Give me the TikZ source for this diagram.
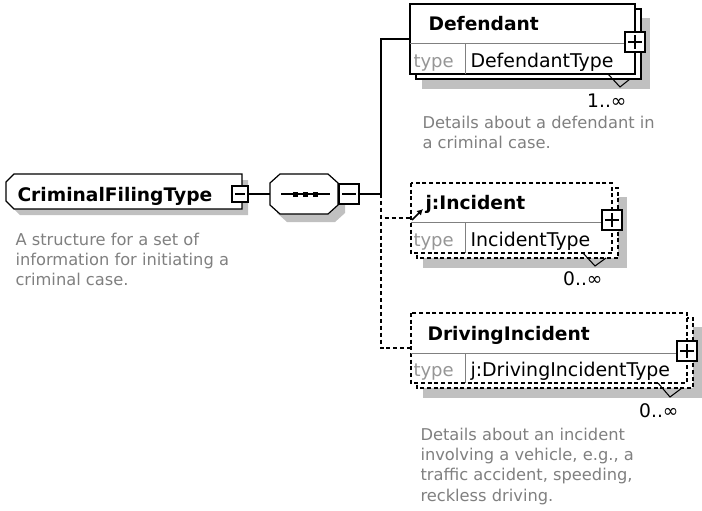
\documentclass[tikz,border=0pt]{standalone}
\usepackage{fontspec}
\setmainfont{DejaVu Sans}
\usetikzlibrary{fit,arrows.meta}
\definecolor{shadowgray}{RGB}{192,192,192}
\definecolor{desc}{RGB}{128,128,128}
\definecolor{tlabel}{RGB}{150,150,150}
\definecolor{sepc}{RGB}{128,128,128}
\begin{document}
\begin{tikzpicture}[x=0.75pt,y=-0.75pt,line width=0.75pt,
 shadowfill/.style={fill=shadowgray,draw=none},
 frontbox/.style={draw=black,fill=white,line width=0.9pt},
 optbox/.style={frontbox,dash pattern=on 3pt off 2pt},
 fitbox/.style={inner sep=0pt,outer sep=0pt},
 ttl/.style={anchor=base west,inner sep=0pt,font=\fontsize{14}{17}\selectfont\bfseries},
 tlab/.style={anchor=base west,inner sep=0pt,text=tlabel,font=\fontsize{13.5}{16}\selectfont},
 tval/.style={anchor=base west,inner sep=0pt,font=\fontsize{14.2}{17}\selectfont},
 card/.style={anchor=base east,inner sep=0pt,font=\fontsize{14}{17}\selectfont},
 dsc/.style={anchor=base west,inner sep=0pt,text=desc,font=\fontsize{12.2}{15.3}\selectfont},
 conn/.style={draw=black,line width=0.8pt},
 optconn/.style={conn,dash pattern=on 3pt off 2.2pt},
 sep/.style={draw=sepc,line width=0.75pt},
 expbox/.style={draw=black,fill=white,line width=0.8pt,inner sep=0pt,minimum size=15pt},
 minusbox/.style={expbox,path picture={\draw[line width=0.8pt] ([xshift=2.5pt]path picture bounding box.west) -- ([xshift=-2.5pt]path picture bounding box.east);}},
 plusbox/.style={expbox,path picture={\draw[line width=0.8pt] ([xshift=2.5pt]path picture bounding box.west) -- ([xshift=-2.5pt]path picture bounding box.east); \draw[line width=0.8pt] ([yshift=-2.5pt]path picture bounding box.north) -- ([yshift=2.5pt]path picture bounding box.south);}},
 notch/.style={draw=black,line width=0.8pt},
]
\fill[white] (0,0) rectangle (702,510);
\useasboundingbox (0,0) rectangle (702,510);

% ---- CriminalFilingType
\path[shadowfill] (20,180) -- (248,180) -- (248,215) -- (20,215) -- (12,207) -- (12,188) -- cycle;
\draw[frontbox] (14,174) -- (242,174) -- (242,209) -- (14,209) -- (6,201) -- (6,182) -- cycle;
\node[fitbox,fit={(6,174) (242,209)}] (cft) {};
\node[ttl] (cftname) at (17,201) {CriminalFilingType};
\node[minusbox,minimum size=12pt] (cftminus) at (240,194) {};
\node[dsc] (cftdesc) at (15,245) {\begin{tabular}[t]{@{}l@{}}A structure for a set of\\information for initiating a\\criminal case.\end{tabular}};

% ---- sequence
\path[shadowfill] (287,182) -- (335,182) -- (345,191) -- (345,213) -- (335,222) -- (287,222) -- (277,213) -- (277,191) -- cycle;
\draw[frontbox] (280,174) -- (328,174) -- (338,183) -- (338,205) -- (328,214) -- (280,214) -- (270,205) -- (270,183) -- cycle;
\node[fitbox,fit={(270,174) (338,214)}] (seq) {};
\draw[line width=0.9pt] (281,194) -- (330,194);
\fill (293,192) rectangle (298,197);
\fill (303,192) rectangle (308,197);
\fill (313,192) rectangle (318,197);
\node[minusbox] (seqminus) at (349,194) {};

% ---- Defendant
\path[shadowfill] (422,18) rectangle (650,89);
\draw[frontbox] (416,9) rectangle (641,79);
\draw[frontbox] (410,4) rectangle (635,74);
\node[fitbox,fit={(410,4) (635,74)}] (def) {};
\draw[sep] (410,44) -- (635,44);
\draw[sep] (465,44) -- (465,74);
\node[ttl] (defname) at (428,31) {Defendant};
\node[tlab] (deftl) at (413,67) {type};
\node[tval] (deftv) at (470,67) {DefendantType};
\node[plusbox] (defplus) at (635,42) {};
\draw[notch] (608,74) -- (620,87) -- (630,79);
\node[card] (defcard) at (627,107) {1..∞};
\node[dsc] (defdesc) at (422,128) {\begin{tabular}[t]{@{}l@{}}Details about a defendant in\\a criminal case.\end{tabular}};

% ---- j:Incident
\path[shadowfill] (423,197) rectangle (627,268);
\draw[optbox] (417,188) rectangle (618,258);
\draw[optbox] (411,183) rectangle (612,253);
\node[fitbox,fit={(411,183) (612,253)}] (inc) {};
\draw[sep] (411,222) -- (612,222);
\draw[sep] (465,222) -- (465,253);
\node[ttl] (incname) at (425,209) {j:Incident};
\draw[-{Latex[length=4.5pt,width=5pt]},line width=1.3pt] (412,220) -- (423,209);
\node[tlab] (inctl) at (413,246) {type};
\node[tval] (inctv) at (470,246) {IncidentType};
\node[plusbox] (incplus) at (612,220) {};
\draw[notch] (583,253) -- (595,266) -- (606,258);
\node[card] (inccard) at (603,285) {0..∞};

% ---- DrivingIncident
\path[shadowfill] (423,327) rectangle (702,398);
\draw[optbox] (417,318) rectangle (693,388);
\draw[optbox] (411,313) rectangle (687,383);
\node[fitbox,fit={(411,313) (687,383)}] (drv) {};
\draw[sep] (411,353) -- (687,353);
\draw[sep] (465,353) -- (465,383);
\node[ttl] (drvname) at (427,340) {DrivingIncident};
\node[tlab] (drvtl) at (413,376) {type};
\node[tval] (drvtv) at (470,376) {j:DrivingIncidentType};
\node[plusbox] (drvplus) at (687,351) {};
\draw[notch] (658,383) -- (670,397) -- (682,388);
\node[card] (drvcard) at (679,417) {0..∞};
\node[dsc] (drvdesc) at (420,440) {\begin{tabular}[t]{@{}l@{}}Details about an incident\\involving a vehicle, e.g., a\\traffic accident, speeding,\\reckless driving.\end{tabular}};

% ---- connectors
\coordinate (jn) at (381,194);
\draw[conn] (cftminus.east) -- (cftminus.east -| seq.west);
\draw[conn] (seqminus.east) -- (jn);
\draw[conn] (jn) |- (def.west);
\draw[optconn] (jn) |- (inc.west);
\draw[optconn] (jn) |- (drv.west);
\end{tikzpicture}
\end{document}
